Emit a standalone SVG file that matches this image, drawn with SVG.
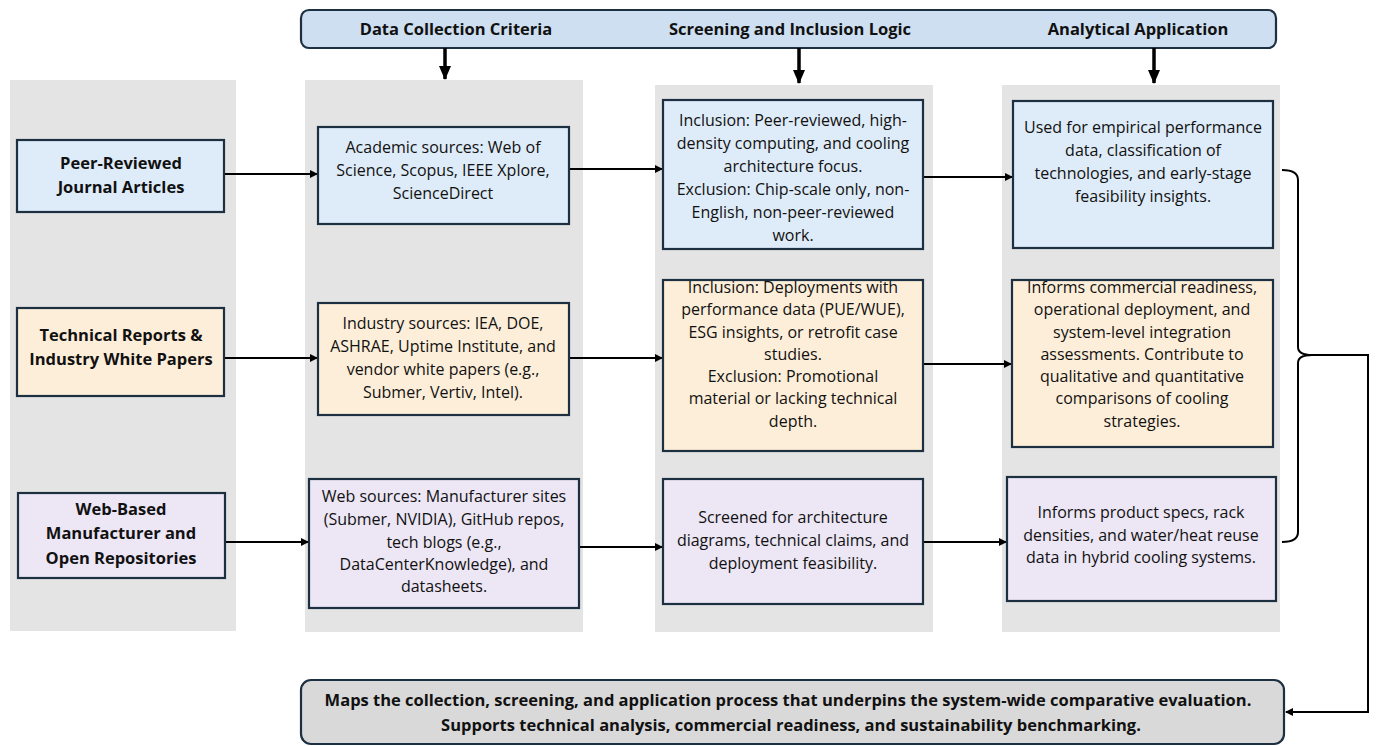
<svg xmlns="http://www.w3.org/2000/svg" width="1376" height="746" viewBox="0 0 1376 746">
<style>
text{font-family:"Open Sans","Noto Sans",sans-serif;fill:#111;text-anchor:middle}
.h{font-size:16.5px;font-weight:bold}
.n{font-size:16.5px;font-weight:bold}
.t{font-size:16px}
.f{font-size:16.5px;font-weight:bold}
.col{fill:#e4e4e4}
.box{stroke:#1d3042;stroke-width:2.2}
.blue{fill:#deebf8}
.peach{fill:#fdeed9}
.lav{fill:#ece6f5}
.con{stroke:#000;stroke-width:2;fill:none}
.dn{stroke:#000;stroke-width:3.5;fill:none}
</style>
<defs>
<marker id="ah" markerWidth="8" markerHeight="8" refX="7" refY="4" orient="auto" markerUnits="userSpaceOnUse"><path d="M0,0 L8,4 L0,8 z" fill="#000"/></marker>
<marker id="ad" markerWidth="14" markerHeight="12" refX="13" refY="6" orient="auto" markerUnits="userSpaceOnUse"><path d="M0,0 L14,6 L0,12 z" fill="#000"/></marker>
</defs>
<rect width="1376" height="746" fill="#fff"/>
<g id="columns">
<rect class="col" x="10" y="80" width="226" height="551"/>
<rect class="col" x="305" y="80" width="278" height="552"/>
<rect class="col" x="655" y="85" width="278" height="547"/>
<rect class="col" x="1002" y="85" width="278" height="547"/>
</g>
<g id="header">
<rect x="301" y="10" width="975" height="38" rx="8" fill="#cddff0" stroke="#1d3042" stroke-width="2.2"/>
<text class="h" x="456" y="35">Data Collection Criteria</text>
<text class="h" x="790" y="35">Screening and Inclusion Logic</text>
<text class="h" x="1138" y="35">Analytical Application</text>
</g>
<g id="connectors">
<path class="dn" d="M445,48 V79" marker-end="url(#ad)"/>
<path class="dn" d="M799,48 V83" marker-end="url(#ad)"/>
<path class="dn" d="M1154,48 V83" marker-end="url(#ad)"/>
<path class="con" d="M224,174 H317" marker-end="url(#ah)"/>
<path class="con" d="M569,169 H662" marker-end="url(#ah)"/>
<path class="con" d="M923,177 H1012" marker-end="url(#ah)"/>
<path class="con" d="M224,358 H317" marker-end="url(#ah)"/>
<path class="con" d="M569,358 H662" marker-end="url(#ah)"/>
<path class="con" d="M923,364 H1011" marker-end="url(#ah)"/>
<path class="con" d="M225,542 H308" marker-end="url(#ah)"/>
<path class="con" d="M579,547 H662" marker-end="url(#ah)"/>
<path class="con" d="M923,542 H1006" marker-end="url(#ah)"/>
<path class="con" stroke-width="2.5" d="M1282,170 Q1298,170 1298,180 V347 Q1298,355 1312,355 Q1298,355 1298,363 V532 Q1298,542 1282,542"/>
<path class="con" stroke-width="3" d="M1312,355 H1368 V712 H1286" marker-end="url(#ah)"/>
</g>
<g id="n-peer"><rect class="box blue" x="17" y="140" width="207" height="72"/>
<text class="n" x="121" y="169">Peer-Reviewed</text><text class="n" x="121" y="193">Journal Articles</text></g>
<g id="n-tech"><rect class="box peach" x="17" y="308" width="207" height="88"/>
<text class="n" x="121" y="341">Technical Reports &amp;</text><text class="n" x="121" y="365">Industry White Papers</text></g>
<g id="n-web"><rect class="box lav" x="18" y="493" width="207" height="85"/>
<text class="n" x="121" y="515">Web-Based</text><text class="n" x="121" y="539">Manufacturer and</text><text class="n" x="121" y="564">Open Repositories</text></g>
<g id="n-academic"><rect class="box blue" x="318" y="127" width="251" height="97"/>
<text class="t" x="443" y="153">Academic sources: Web of</text><text class="t" x="443" y="176">Science, Scopus, IEEE Xplore,</text><text class="t" x="443" y="199">ScienceDirect</text></g>
<g id="n-industry"><rect class="box peach" x="318" y="303" width="251" height="112"/>
<text class="t" x="443" y="329">Industry sources: IEA, DOE,</text><text class="t" x="443" y="352">ASHRAE, Uptime Institute, and</text><text class="t" x="443" y="375">vendor white papers (e.g.,</text><text class="t" x="443" y="398">Submer, Vertiv, Intel).</text></g>
<g id="n-websources"><rect class="box lav" x="309" y="479" width="270" height="129"/>
<text class="t" x="444" y="502">Web sources: Manufacturer sites</text><text class="t" x="444" y="525">(Submer, NVIDIA), GitHub repos,</text><text class="t" x="444" y="548">tech blogs (e.g.,</text><text class="t" x="444" y="570">DataCenterKnowledge), and</text><text class="t" x="444" y="592">datasheets.</text></g>
<g id="n-incl1"><rect class="box blue" x="663" y="100" width="260" height="149"/>
<text class="t" x="793" y="126">Inclusion: Peer-reviewed, high-</text><text class="t" x="793" y="149">density computing, and cooling</text><text class="t" x="793" y="172">architecture focus.</text><text class="t" x="793" y="195">Exclusion: Chip-scale only, non-</text><text class="t" x="793" y="218">English, non-peer-reviewed</text><text class="t" x="793" y="241">work.</text></g>
<g id="n-incl2"><rect class="box peach" x="663" y="280" width="260" height="171"/>
<text class="t" x="793" y="293">Inclusion: Deployments with</text><text class="t" x="793" y="315">performance data (PUE/WUE),</text><text class="t" x="793" y="338">ESG insights, or retrofit case</text><text class="t" x="793" y="360">studies.</text><text class="t" x="793" y="382">Exclusion: Promotional</text><text class="t" x="793" y="404">material or lacking technical</text><text class="t" x="793" y="427">depth.</text></g>
<g id="n-screened"><rect class="box lav" x="663" y="479" width="260" height="125"/>
<text class="t" x="793" y="523">Screened for architecture</text><text class="t" x="793" y="546">diagrams, technical claims, and</text><text class="t" x="793" y="569">deployment feasibility.</text></g>
<g id="n-used"><rect class="box blue" x="1013" y="101" width="260" height="147"/>
<text class="t" x="1143" y="133">Used for empirical performance</text><text class="t" x="1143" y="156">data, classification of</text><text class="t" x="1143" y="179">technologies, and early-stage</text><text class="t" x="1143" y="202">feasibility insights.</text></g>
<g id="n-commercial"><rect class="box peach" x="1012" y="280" width="261" height="167"/>
<text class="t" x="1142" y="293">Informs commercial readiness,</text><text class="t" x="1142" y="315">operational deployment, and</text><text class="t" x="1142" y="338">system-level integration</text><text class="t" x="1142" y="360">assessments. Contribute to</text><text class="t" x="1142" y="382">qualitative and quantitative</text><text class="t" x="1142" y="404">comparisons of cooling</text><text class="t" x="1142" y="427">strategies.</text></g>
<g id="n-product"><rect class="box lav" x="1007" y="477" width="269" height="124"/>
<text class="t" x="1141" y="518">Informs product specs, rack</text><text class="t" x="1141" y="541">densities, and water/heat reuse</text><text class="t" x="1141" y="563">data in hybrid cooling systems.</text></g>
<g id="n-summary"><rect x="301" y="680" width="983" height="64" rx="10" fill="#d9d9d9" stroke="#1d3042" stroke-width="2.2"/>
<text class="f" x="788" y="706">Maps the collection, screening, and application process that underpins the system-wide comparative evaluation.</text>
<text class="f" x="791" y="731">Supports technical analysis, commercial readiness, and sustainability benchmarking.</text></g>
</svg>
